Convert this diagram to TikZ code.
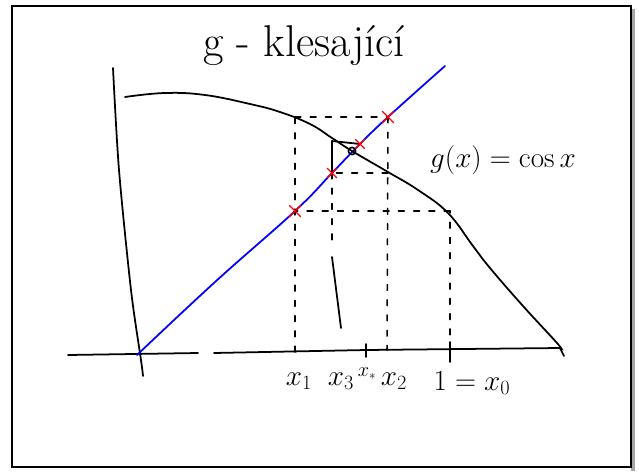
\documentclass[tikz,border=0pt]{standalone}
\usepackage{amsmath}
\usepackage{tikz}
\usetikzlibrary{shapes.misc, calc}

\begin{document}
\begin{tikzpicture}[
        x=0.03cm, y=-0.03cm,
        line cap=round,
        % Style for the hand-drawn black strokes
        pen/.style={black, line width=1.5pt},
        % Style for the dashed helper lines of the iteration
        helper/.style={black, line width=1.3pt, dash pattern=on 5pt off 8pt},
        % Style for the red crosses on the line y=x
        redx/.style={cross out, draw=red, line width=1.2pt, minimum size=0.3cm, inner sep=0pt},
        % Style for the axis labels
        axlabel/.style={font=\fontsize{24}{26}\selectfont}
    ]
    \useasboundingbox (0,0) rectangle (639,471);

    % --- Frame ---
    \fill[gray!70] (631,9) rectangle (635,471);
    \draw[line width=1.8pt] (12,6) rectangle (631,467);

    % --- Title ---
    \node[font=\fontsize{38}{42}\selectfont] (title) at (304,46) {g - klesající};

    % --- Axes ---
    \draw[pen] plot[smooth] coordinates {(113,68) (119,170) (131,290) (141,360) (143,376)};
    \draw[pen] (68,355) -- (198,353);
    \draw[pen] (214,353) -- (366,350) -- (560,348) -- (564,356);

    % --- Points of the iteration ---
    \coordinate (L1) at (295,211);
    \coordinate (L3) at (332,173);
    \coordinate (L4) at (360,144);
    \coordinate (L2) at (388,117);
    \coordinate (F) at (352,151);
    \coordinate (C0) at (450,211);
    \coordinate (C1) at (295,117);
    \coordinate (C2) at (388,173);
    \coordinate (C3) at (332,141);
    \coordinate (X0) at (450,350);
    \coordinate (X1) at (295,352);
    \coordinate (X2) at (387,350);
    \coordinate (X3a) at (332,245);
    \coordinate (X3b) at (332,257);
    \coordinate (X3c) at (341,328);
    \coordinate (XS) at (366,350);

    % --- Line y = x ---
    \draw[blue, line width=1.5pt] plot[smooth, tension=0.7] coordinates {(137,355) (215,282) (295,211) (332,173) (360,144) (388,117) (445,66)};

    % --- g(x) = cos x ---
    \draw[pen] plot[smooth, tension=0.7] coordinates {(125,97) (165,93) (205,95) (250,104) (280,112)
        (310,124) (332,138) (352,151) (388,172) (418,190) (448,213) (473,246) (490,268)
        (523,306) (557,343) (561,349)};
    \node[font=\fontsize{26}{28}\selectfont] (glabel) at (503,160) {$g(x)=\cos x$};

    % --- Cobweb ---
    \draw[helper] (X0) -- (C0);
    \draw[helper] (C0) -- (L1);
    \draw[helper] (X1) -- (C1);
    \draw[helper] (C1) -- (L2);
    \draw[helper] (L2) -- (X2);
    \draw[helper] (C2) -- (L3);
    \draw[pen] (L3) -- (C3);
    \draw[helper] (L3) -- (X3a);
    \draw[pen] (X3b) -- (X3c);
    \draw[pen] (C3) -- (L4);
    \node[circle, draw, line width=1.3pt, minimum size=0.22cm, inner sep=0pt] (fix) at (F) {};

    % --- Red crosses ---
    \node[redx] (m1) at (L1) {};
    \node[redx] (m2) at (L2) {};
    \node[redx, minimum size=0.24cm] (m3) at (L3) {};
    \node[redx, minimum size=0.22cm] (m4) at (L4) {};

    % --- Ticks ---
    \draw[pen] ($(XS)+(0,-6)$) -- ($(XS)+(0,7)$);
    \draw[pen] ($(X0)+(0,-8)$) -- ($(X0)+(0,12)$);

    % --- Labels ---
    \node[axlabel] (lx1) at (299,381) {$x_1$};
    \node[axlabel] (lx3) at (341,381) {$x_3$};
    \node[font=\fontsize{16}{18}\selectfont] (lxs) at (367,374) {$x_*$};
    \node[axlabel] (lx2) at (394,381) {$x_2$};
    \node[axlabel] (lx0) at (472,383) {$1=x_0$};

\end{tikzpicture}
\end{document}
